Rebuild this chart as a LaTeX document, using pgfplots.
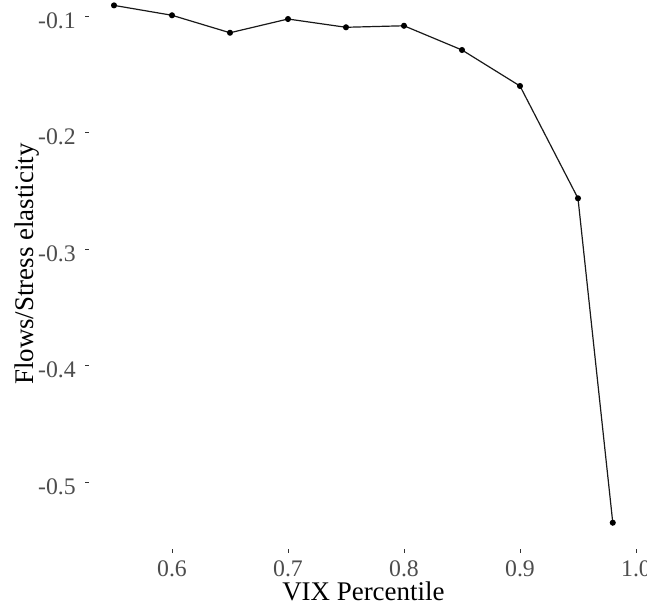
\documentclass[border=0pt]{standalone}
\usepackage{fontspec}
\setmainfont{Liberation Serif}
\usepackage{pgfplots}
\pgfplotsset{compat=1.18}
\definecolor{ticktext}{RGB}{77,77,77}
\definecolor{tickline}{RGB}{51,51,51}
\begin{document}
\begin{tikzpicture}
\begin{axis}[
  at={(0,0)}, anchor=south west,
  scale only axis, width=411.5pt, height=426.8pt,
  xmin=0.5285, xmax=1.0015, ymin=-0.5569, ymax=-0.0684,
  axis x line*=bottom, axis y line*=left,
  axis line style={draw=none},
  tick align=outside, major tick length=3pt,
  tick style={tickline, line width=0.5pt},
  xtick={0.6,0.7,0.8,0.9,1.0}, xticklabels={0.6,0.7,0.8,0.9,1.0},
  ytick={-0.5,-0.4,-0.3,-0.2,-0.1}, yticklabels={-0.5,-0.4,-0.3,-0.2,-0.1},
  ticklabel style={font=\fontsize{17.8}{20}\selectfont, text=ticktext, inner sep=0pt},
  xticklabel style={anchor=north, yshift=-5.8pt},
  yticklabel style={anchor=east, xshift=-6.75pt, yshift=-3pt},
  xlabel={VIX Percentile},
  ylabel={Flows/Stress elasticity},
  xlabel style={at={(axis description cs:0.5,-0.09156)}, anchor=base, inner sep=0pt, font=\fontsize{20.2}{23}\selectfont, text=black},
  ylabel style={at={(axis description cs:-0.10206,0.5)}, anchor=base, inner sep=0pt, font=\fontsize{20.2}{23}\selectfont, text=black},
  clip=false,
]
\addplot[black!90, line width=0.9pt, mark=*, mark size=1.8pt, mark options={fill=black, draw=black}] coordinates {
  (0.55,-0.0906) (0.60,-0.0991) (0.65,-0.1141) (0.70,-0.1023) (0.75,-0.1094)
  (0.80,-0.1081) (0.85,-0.1289) (0.90,-0.1598) (0.95,-0.2562) (0.98,-0.5347)
};
\end{axis}
\pgfresetboundingbox
\useasboundingbox (-66.8pt,-43.8pt) rectangle (418.46pt,411.45pt);
\end{tikzpicture}
\end{document}
